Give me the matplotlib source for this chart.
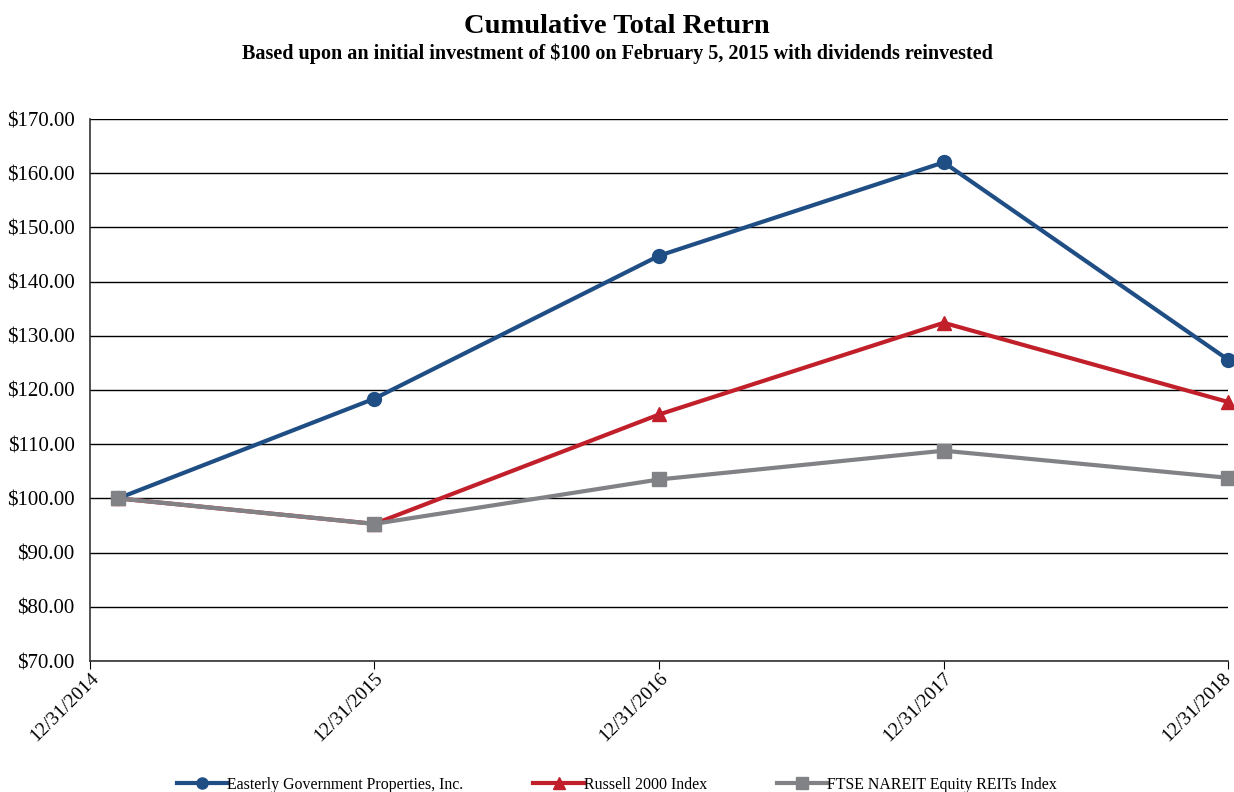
import datetime as dt
import matplotlib
matplotlib.use("Agg")
import matplotlib.pyplot as plt
import matplotlib.dates as mdates
from matplotlib.transforms import ScaledTranslation

# Data
dates = [dt.date(2015, 2, 5), dt.date(2015, 12, 31), dt.date(2016, 12, 31),
         dt.date(2017, 12, 31), dt.date(2018, 12, 31)]
tick_dates = [dt.date(2014, 12, 31), dt.date(2015, 12, 31), dt.date(2016, 12, 31),
              dt.date(2017, 12, 31), dt.date(2018, 12, 31)]
tick_labels = ["12/31/2014", "12/31/2015", "12/31/2016", "12/31/2017", "12/31/2018"]

easterly = [100.0, 118.4, 144.8, 162.0, 125.6]
russell = [100.0, 95.3, 115.5, 132.4, 117.8]
ftse = [100.0, 95.3, 103.5, 108.8, 103.8]

plt.rcParams["font.family"] = ["Liberation Serif", "DejaVu Serif"]

fig = plt.figure(figsize=(12.34, 7.92), dpi=100)
ax = fig.add_axes([90 / 1234, 1 - 661 / 792, (1228 - 90) / 1234, (661 - 119) / 792])

ax.plot(dates, easterly, color="#1f4e85", lw=3, marker="o", ms=10,
        clip_on=False, zorder=5, label="Easterly Government Properties, Inc.")
ax.plot(dates, russell, color="#c1202b", lw=3, marker="^", ms=10,
        clip_on=False, zorder=4, label="Russell 2000 Index")
ax.plot(dates, ftse, color="#818285", lw=3, marker="s", ms=10,
        clip_on=False, zorder=6, label="FTSE NAREIT Equity REITs Index")

ax.set_xlim(tick_dates[0], tick_dates[-1])
ax.set_ylim(70, 170)
ax.set_yticks(range(70, 171, 10))
ax.yaxis.set_major_formatter(lambda v, p: f"${v:.2f}")
ax.set_xticks([mdates.date2num(d) for d in tick_dates])
ax.set_xticklabels([])

# date labels drawn by hand so the last one can stay inside the picture
for i, (d, lab) in enumerate(zip(tick_dates, tick_labels)):
    dx = -4 if i == len(tick_dates) - 1 else 0
    tr = ax.get_xaxis_transform() + ScaledTranslation(dx / 72, -6 / 72, fig.dpi_scale_trans)
    ax.text(mdates.date2num(d), 0, lab, transform=tr, rotation=45, ha="right", va="top",
            rotation_mode="anchor", fontsize=14)

ax.grid(axis="y", color="black", lw=1)
ax.set_axisbelow(True)
for s in ["top", "right"]:
    ax.spines[s].set_visible(False)
for s in ["left", "bottom"]:
    ax.spines[s].set_color("#333333")
    ax.spines[s].set_linewidth(1.2)
ax.tick_params(axis="y", length=0, labelsize=15, pad=11)
ax.tick_params(axis="x", length=6, direction="out")

fig.text(0.5, 0.966, "Cumulative Total Return", ha="center", va="center",
         fontsize=20.5, fontweight="bold")
fig.text(0.5, 0.932, "Based upon an initial investment of $100 on February 5, 2015 with dividends reinvested",
         ha="center", va="center", fontsize=14.5, fontweight="bold")

fig.legend(loc="center", bbox_to_anchor=(0.5, 0.009), ncol=3, frameon=False,
           fontsize=11.4, handlelength=3.2, handletextpad=0.0, columnspacing=4.4,
           markerscale=0.8)

fig.savefig("out.png", dpi=100)
